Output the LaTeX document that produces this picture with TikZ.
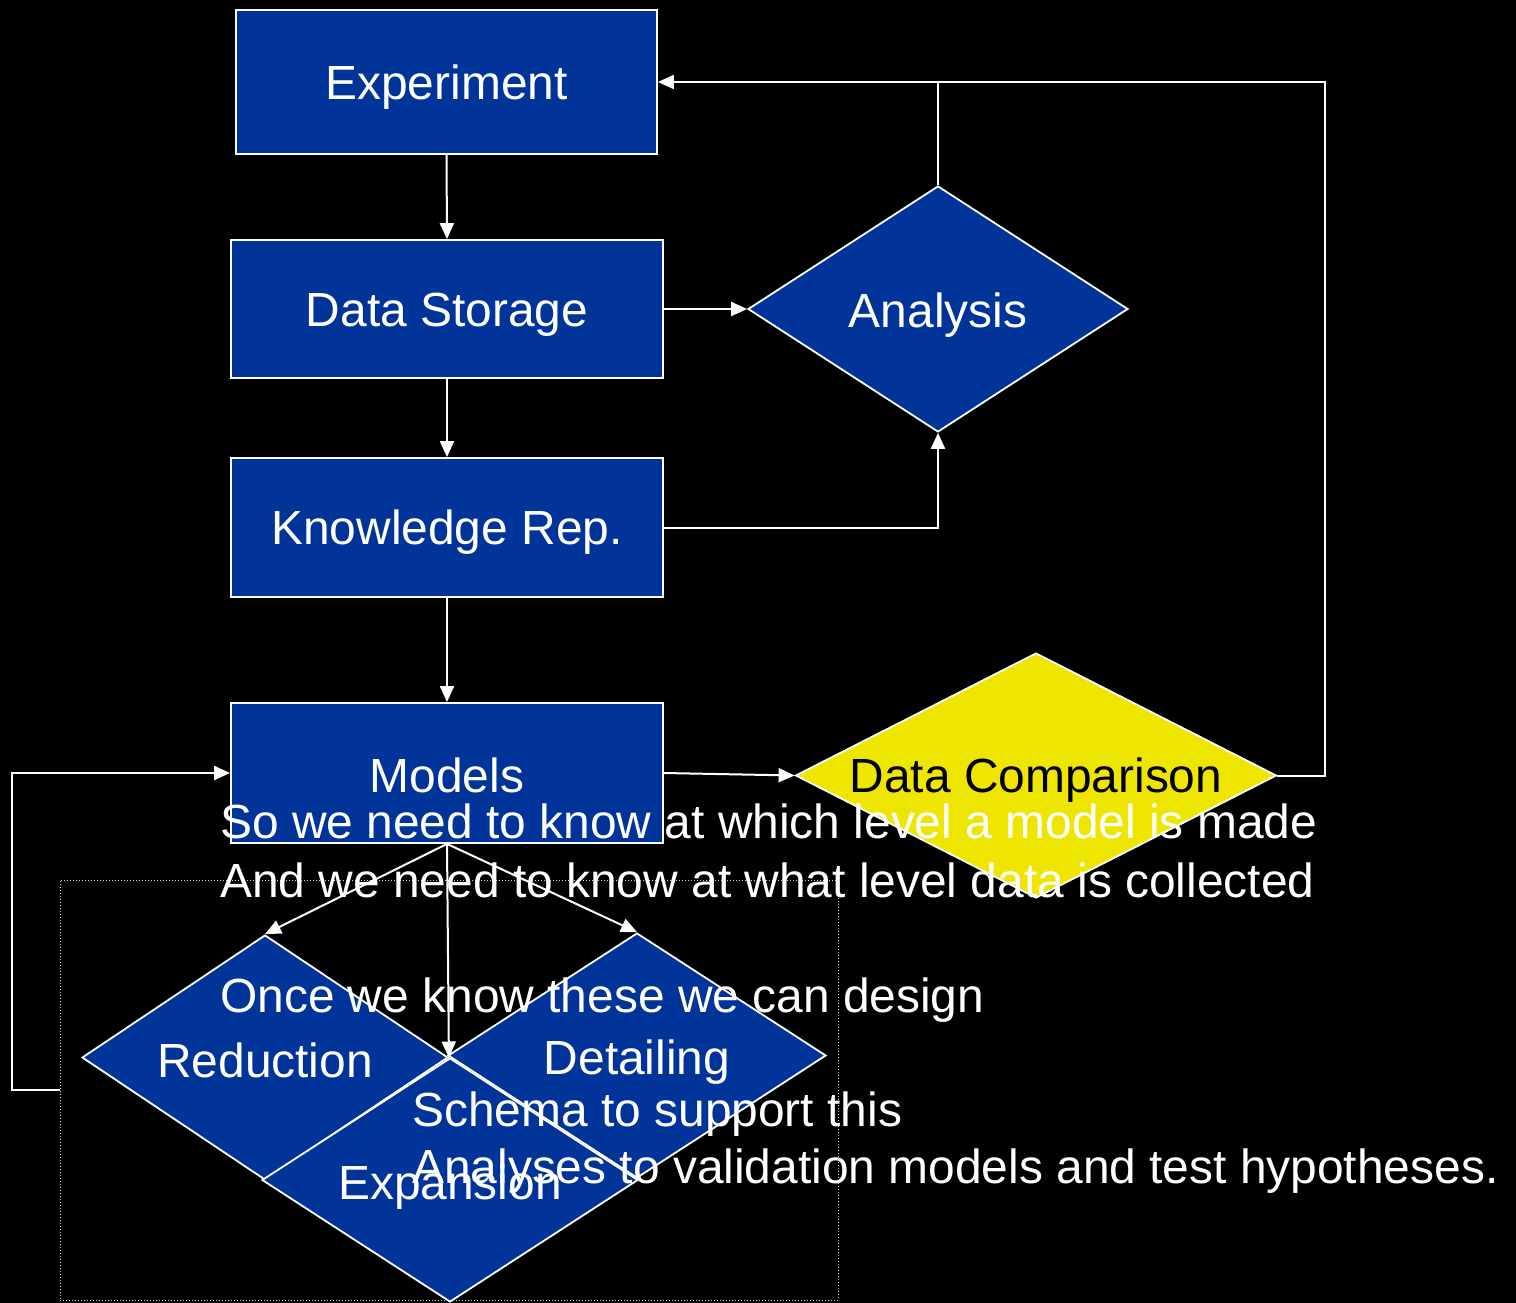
\documentclass[tikz,border=0pt]{standalone}
\usepackage{fontspec}
\setmainfont{Liberation Sans}
\usetikzlibrary{shapes.geometric,arrows.meta}
\definecolor{boxblue}{RGB}{0,52,153}
\definecolor{cmpyellow}{RGB}{238,230,0}
\tikzset{
  every node/.style={font=\fontsize{47.9}{57}\selectfont},
  capmid/.style={text height=34.3pt, text depth=0pt},
  stepbox/.style={draw=white, line width=1.8pt, fill=boxblue, text=white, inner sep=0pt, capmid},
  dia/.style={diamond, draw=white, line width=1.8pt, fill=boxblue, inner sep=0pt, aspect=1},
  lbl/.style={text=white, inner sep=0pt, capmid},
  note/.style={text=white, inner sep=0pt, anchor=base west},
  link/.style={draw=white, line width=2pt},
  arr/.style={link, -{Triangle[length=16pt,width=14pt]}},
}
\begin{document}
\begin{tikzpicture}[x=1pt, y=-1pt]
\useasboundingbox (0,0) rectangle (1516,1303);
\fill[black] (0,0) rectangle (1516,1303);

% main chain of boxes
\node[stepbox, minimum width=421, minimum height=144] (exp) at (446.5,82) {Experiment};
\node[stepbox, minimum width=432, minimum height=138] (ds) at (447,309) {Data Storage};
\node[stepbox, minimum width=432, minimum height=139] (kr) at (447,527.5) {Knowledge Rep.};
\node[stepbox, minimum width=432, minimum height=140] (mod) at (447,773) {};
\node[lbl] (modt) at (447,775) {Models};

% decisions
\node[dia, minimum width=380, minimum height=246] (ana) at (938,309) {};
\node[lbl] (anat) at (938,310.5) {Analysis};
\node[dia, fill=cmpyellow, minimum width=481, minimum height=245] (dc) at (1036,775.5) {};
\node[lbl, text=black] (dct) at (1036,775.5) {Data Comparison};

% group of refinement steps
\node[draw=white!85!black, dotted, line width=1pt, minimum width=778, minimum height=420, inner sep=0pt] (grp) at (449,1090) {};
\node[dia, minimum width=366, minimum height=245] (red) at (265,1057.5) {};
\node[dia, minimum width=378, minimum height=245] (det) at (637,1055.5) {};
\node[dia, minimum width=376, minimum height=244] (expn) at (450,1180) {};
\node[lbl] (redt) at (265,1060) {Reduction};
\node[lbl] (dett) at (637,1057) {Detailing};
\node[lbl] (expnt) at (450,1182) {Expansion};

% connectors
\draw[arr] (exp.south) -- (ds.north);
\draw[arr] (ds.south) -- (kr.north);
\draw[arr] (kr.south) -- (mod.north);
\draw[arr] (ds.east) -- (ana.west);
\draw[arr] (kr.east) -| (ana.south);
\draw[link] (ana.north) -- (ana.north |- exp.east);
\draw[arr] (dc.east) -- ++(48,0) |- (exp.east);
\draw[arr] (mod.east) -- (dc.west);
\draw[arr] (mod.south) -- (red.north);
\draw[arr] (mod.south) -- (det.north);
\draw[arr] (mod.south) -- (red.east);
\draw[arr] (grp.west) -- (12,1090) |- (mod.west);

% running commentary
\node[note] (n1) at (220,838) {So we need to know at which level a model is made};
\node[note] (n2) at (220,897) {And we need to know at what level data is collected};
\node[note] (n3) at (220,1012) {Once we know these we can design};
\node[note] (n4) at (412,1126) {Schema to support this};
\node[note] (n5) at (412,1183) {Analyses to validation models and test hypotheses.};
\end{tikzpicture}
\end{document}
